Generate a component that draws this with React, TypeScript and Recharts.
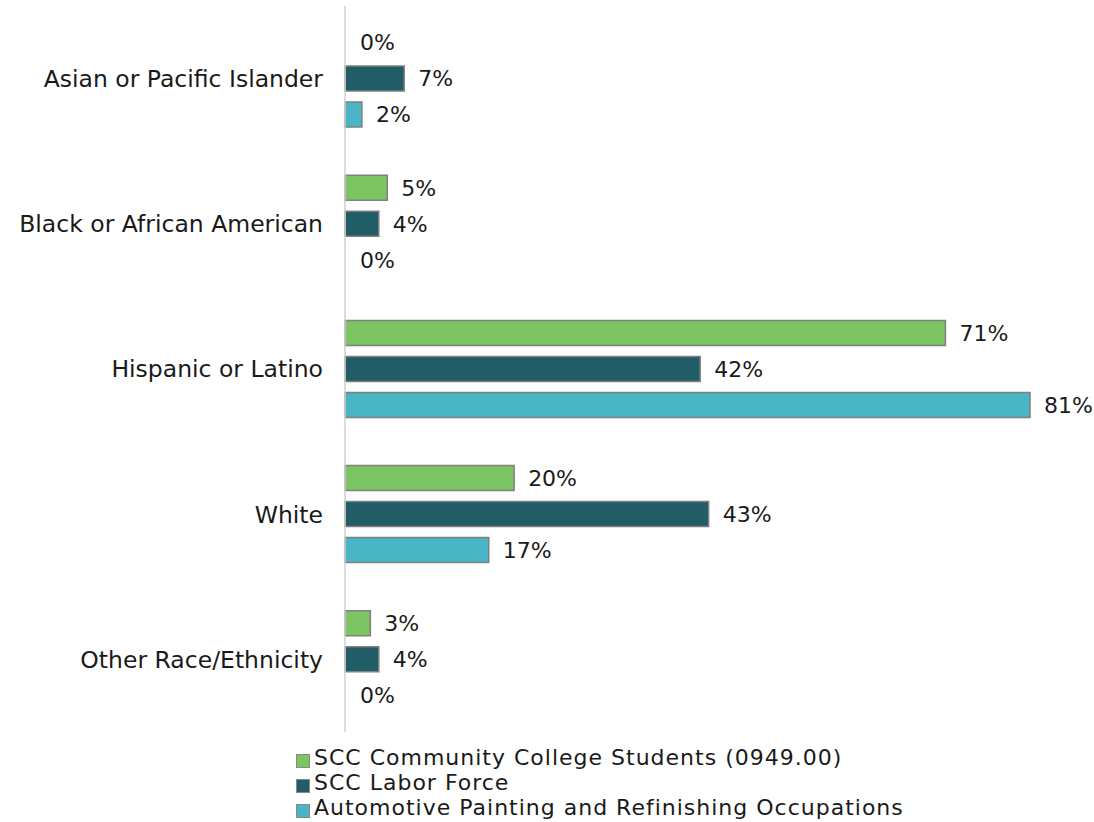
import { BarChart, Bar, XAxis, YAxis, LabelList, Cell } from "recharts";

const categories = [
  "Asian or Pacific Islander",
  "Black or African American",
  "Hispanic or Latino",
  "White",
  "Other Race/Ethnicity",
];
const collegeStudents = [0, 5, 71, 20, 3];
const laborForce = [7, 4, 42, 43, 4];
const occupations = [2, 0, 81, 17, 0];

const seriesNames = [
  "SCC Community College Students (0949.00)",
  "SCC Labor Force",
  "Automotive Painting and Refinishing Occupations",
];
const colors = ["#7dc462", "#215d66", "#4ab5c5"];
const keys = ["students", "labor", "occupations"];

const data = categories.map((name, i) => ({
  name,
  students: collegeStudents[i],
  labor: laborForce[i],
  occupations: occupations[i],
}));

const FONT = "'DejaVu Sans', sans-serif";

function LegendBox() {
  return (
    <div
      style={{
        position: "absolute",
        left: 296,
        top: 745,
        fontFamily: FONT,
        fontSize: 22,
        letterSpacing: 1,
        color: "#1a1a1a",
        lineHeight: "25px",
        whiteSpace: "nowrap",
      }}
    >
      {seriesNames.map((n, i) => (
        <div key={n} style={{ display: "flex", alignItems: "center" }}>
          <span
            style={{
              display: "inline-block",
              width: 12,
              height: 12,
              background: colors[i],
              border: "1px solid #888",
              marginRight: 4,
              marginTop: 6,
            }}
          />
          {n}
        </div>
      ))}
    </div>
  );
}

export default function App() {
  const fmt = (v: unknown) => `${v}%`;
  const labelStyle = { fontSize: 22, fill: "#1a1a1a", fontFamily: FONT };
  return (
    <div style={{ position: "absolute", left: 0, top: 0, width: 1094, height: 822, background: "#fff" }}>
      <BarChart
        width={1094}
        height={741}
        data={data}
        layout="vertical"
        margin={{ top: 6, right: 64, bottom: 9, left: 0 }}
        barSize={25}
        barGap={11}
      >
        <XAxis type="number" domain={[0, 81]} hide />
        <YAxis
          type="category"
          dataKey="name"
          width={345}
          tickLine={false}
          tickSize={0}
          tickMargin={22}
          axisLine={{ stroke: "#d0d0d0", strokeWidth: 1.5 }}
          tick={{ fontSize: 23.5, fill: "#1a1a1a", fontFamily: FONT }}
        />
        {keys.map((k, si) => (
          <Bar
            key={k}
            dataKey={k}
            fill={colors[si]}
            stroke="#808080"
            strokeWidth={1.5}
            minPointSize={1}
            isAnimationActive={false}
          >
            {data.map((d, i) => {
              const zero = (d as any)[k] === 0;
              return (
                <Cell
                  key={i}
                  fill={colors[si]}
                  fillOpacity={zero ? 0 : 1}
                  stroke={zero ? "none" : "#808080"}
                />
              );
            })}
            <LabelList dataKey={k} position="right" offset={14} formatter={fmt} style={labelStyle} />
          </Bar>
        ))}
      </BarChart>
      <LegendBox />
    </div>
  );
}
